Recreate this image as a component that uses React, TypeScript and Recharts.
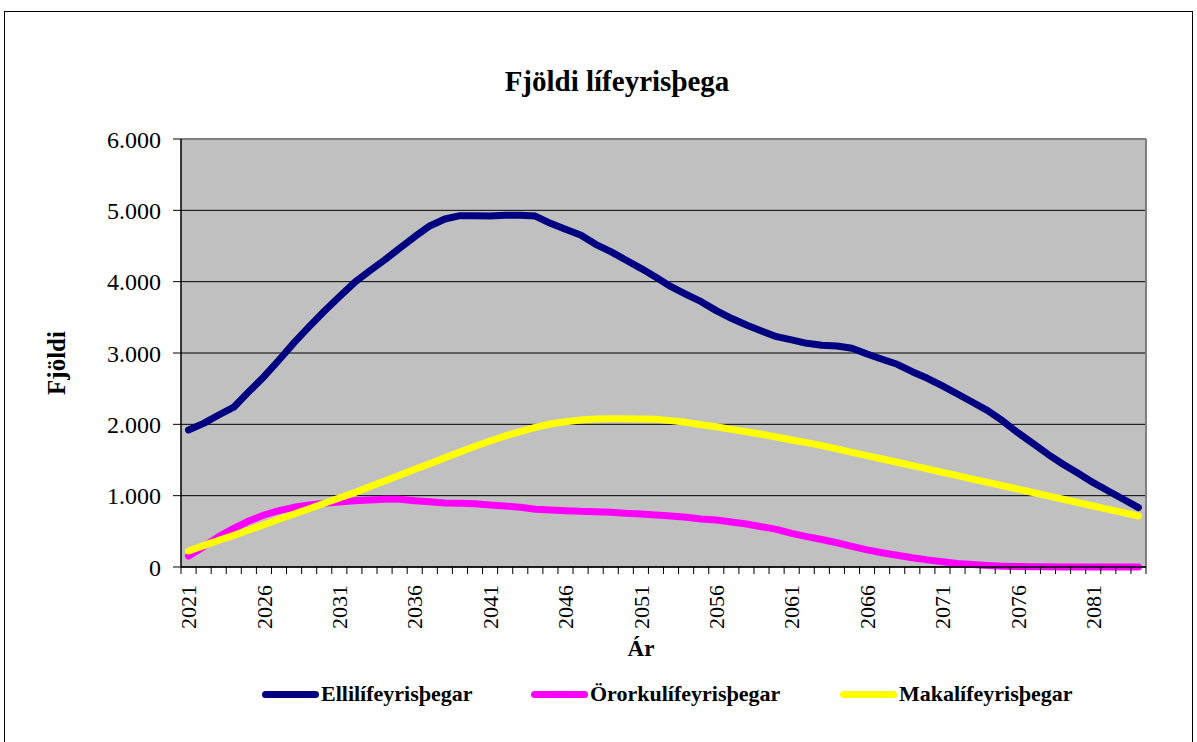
import React from 'react';
import { LineChart, Line, XAxis, YAxis, CartesianGrid } from 'recharts';

const years = [
  2021, 2022, 2023, 2024, 2025, 2026, 2027, 2028, 2029, 2030,
  2031, 2032, 2033, 2034, 2035, 2036, 2037, 2038, 2039, 2040,
  2041, 2042, 2043, 2044, 2045, 2046, 2047, 2048, 2049, 2050,
  2051, 2052, 2053, 2054, 2055, 2056, 2057, 2058, 2059, 2060,
  2061, 2062, 2063, 2064, 2065, 2066, 2067, 2068, 2069, 2070,
  2071, 2072, 2073, 2074, 2075, 2076, 2077, 2078, 2079, 2080,
  2081, 2082, 2083, 2084
];

const elli = [
  1921, 2014, 2131, 2240, 2458, 2668, 2902, 3145, 3369, 3585,
  3790, 3987, 4150, 4304, 4468, 4631, 4781, 4879, 4925, 4925,
  4920, 4930, 4930, 4920, 4818, 4734, 4655, 4524, 4421, 4304,
  4187, 4061, 3930, 3823, 3720, 3594, 3487, 3393, 3309, 3229,
  3183, 3136, 3108, 3098, 3066, 2986, 2912, 2842, 2738, 2645,
  2538, 2425, 2309, 2192, 2047, 1883, 1734, 1580, 1440, 1313,
  1182, 1066, 949, 832
];

const ororka = [
  154, 285, 425, 542, 645, 729, 790, 837, 869, 893,
  911, 930, 939, 949, 949, 930, 916, 897, 893, 888,
  869, 855, 837, 809, 799, 790, 780, 776, 767, 752,
  743, 729, 715, 696, 673, 659, 631, 603, 565, 528,
  472, 425, 385, 340, 290, 240, 200, 165, 130, 100,
  75, 50, 35, 22, 12, 6, 3, 2, 1, 1,
  0, 0, 0, 0
];

const maka = [
  224, 299, 374, 444, 519, 593, 669, 743, 817, 893,
  967, 1042, 1126, 1206, 1285, 1369, 1448, 1532, 1612, 1692,
  1766, 1837, 1897, 1958, 2005, 2037, 2061, 2075, 2080, 2080,
  2075, 2070, 2052, 2028, 1995, 1967, 1930, 1897, 1860, 1823,
  1781, 1743, 1701, 1655, 1608, 1562, 1514, 1468, 1421, 1375,
  1327, 1281, 1233, 1186, 1139, 1092, 1044, 997, 950, 902,
  855, 808, 762, 715
];

const yTicks = [0, 1000, 2000, 3000, 4000, 5000, 6000];

const series = [
  { key: 'elli', name: 'Ellilífeyrisþegar', color: '#000080', width: 269 },
  { key: 'ororka', name: 'Örorkulífeyrisþegar', color: '#FF00FF', width: 309 },
  { key: 'maka', name: 'Makalífeyrisþegar', color: '#FFFF00', width: 260 }
];

const data = years.map((year, i) => ({
  year: String(year),
  elli: elli[i],
  ororka: ororka[i],
  maka: maka[i]
}));

const FONT = '"Liberation Serif", "Times New Roman", serif';

const formatY = (v: number) => (v === 0 ? '0' : `${v / 1000}.000`);

// minor tick at every category boundary, label on every 5th year
const XTick = (props: any) => {
  const { x, y, payload, index } = props;
  const half = payload && payload.offset ? payload.offset : 7.5;
  const last = index === years.length - 1;
  return (
    <g>
      <line x1={x - half} x2={x - half} y1={y} y2={y + 7} stroke="#000" strokeWidth={1} />
      {last && <line x1={x + half} x2={x + half} y1={y} y2={y + 7} stroke="#000" strokeWidth={1} />}
      {index % 5 === 0 && (
        <text
          x={0}
          y={0}
          dy="0.35em"
          transform={`translate(${x},${y + 18}) rotate(-90)`}
          textAnchor="end"
          fill="#000"
          fontSize={22}
          fontFamily={FONT}
        >
          {payload.value}
        </text>
      )}
    </g>
  );
};

export default function App() {
  return (
    <div style={{ position: 'absolute', left: 0, top: 0, width: 1197, height: 742, overflow: 'hidden', background: '#fff', fontFamily: FONT }}>
      <div style={{ position: 'absolute', left: 4, top: 11, width: 1187, height: 760, border: '1px solid #000' }} />

      <div style={{ position: 'absolute', left: 617, top: 67, transform: 'translateX(-50%)', fontSize: 29, fontWeight: 'bold', lineHeight: 1, whiteSpace: 'nowrap' }}>
        Fjöldi lífeyrisþega
      </div>

      <LineChart
        width={1197}
        height={742}
        data={data}
        margin={{ top: 139, right: 51, bottom: 105, left: 101 }}
        style={{ position: 'absolute', left: 0, top: 0 }}
      >
        <CartesianGrid vertical={false} fill="#C0C0C0" stroke="#000" strokeWidth={1} />
        <CartesianGrid
          fill="none"
          stroke="#808080"
          strokeWidth={2}
          horizontalCoordinatesGenerator={({ offset }: any) => [offset.top]}
          verticalCoordinatesGenerator={({ offset }: any) => [offset.left + offset.width]}
        />
        <XAxis
          dataKey="year"
          scale="band"
          interval={0}
          height={70}
          tickSize={0}
          tickMargin={0}
          tickLine={false}
          axisLine={{ stroke: '#000', strokeWidth: 1.5 }}
          tick={<XTick />}
        />
        <YAxis
          width={80}
          domain={[0, 6000]}
          ticks={yTicks}
          interval={0}
          tickFormatter={formatY}
          tickSize={8}
          tickMargin={12}
          axisLine={{ stroke: '#000', strokeWidth: 1.5 }}
          tickLine={{ stroke: '#000' }}
          tick={{ fill: '#000', fontSize: 24, fontFamily: FONT }}
        />
        {series.map((s) => (
          <Line
            key={s.key}
            type="linear"
            dataKey={s.key}
            name={s.name}
            stroke={s.color}
            strokeWidth={7}
            strokeLinecap="round"
            strokeLinejoin="round"
            dot={false}
            activeDot={false}
            isAnimationActive={false}
          />
        ))}
      </LineChart>

      <div style={{ position: 'absolute', left: 56, top: 363, transform: 'translate(-50%, -50%) rotate(-90deg)', fontSize: 25, fontWeight: 'bold', lineHeight: 1, whiteSpace: 'nowrap' }}>
        Fjöldi
      </div>

      <div style={{ position: 'absolute', left: 641, top: 637, transform: 'translateX(-50%)', fontSize: 23, fontWeight: 'bold', lineHeight: 1 }}>
        Ár
      </div>

      <div style={{ position: 'absolute', left: 262, top: 682, height: 24, display: 'flex', alignItems: 'center' }}>
        {series.map((s) => (
          <div key={s.key} style={{ width: s.width, display: 'flex', alignItems: 'center' }}>
            <div style={{ width: 57, height: 7, borderRadius: 4, background: s.color, marginRight: 2 }} />
            <span style={{ fontSize: 22, fontWeight: 'bold', lineHeight: 1, whiteSpace: 'nowrap' }}>{s.name}</span>
          </div>
        ))}
      </div>
    </div>
  );
}
